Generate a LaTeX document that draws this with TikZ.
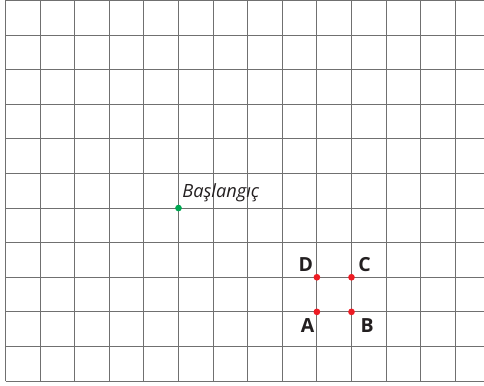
\documentclass[tikz,border=0pt]{standalone}
\usepackage{fontspec}
\setmainfont{Open Sans}
\definecolor{gridc}{RGB}{112,112,112}
\definecolor{ptgreen}{RGB}{0,166,81}
\definecolor{ptred}{RGB}{237,28,36}
\definecolor{txt}{RGB}{35,31,32}
\begin{document}
\begin{tikzpicture}[x=1cm,y=1cm,
  gridline/.style={draw=gridc,line width=0.75pt},
  dotg/.style={circle,fill=ptgreen,inner sep=0pt,minimum size=5.5pt},
  dotr/.style={circle,fill=ptred,inner sep=0pt,minimum size=5.5pt},
  lbl/.style={font=\fontsize{16}{16}\selectfont\bfseries,text=txt,inner sep=0pt}]
\useasboundingbox (-0.159,-0.13) rectangle (13.83,11.014);
\fill[white] (-0.159,-0.13) rectangle (13.83,11.014);
\foreach \i in {0,...,13} \draw[gridline] (\i,0) -- (\i,11);
\foreach \j in {0,...,11} \draw[gridline] (0,\j) -- (13.83,\j);
\node[dotg] (s) at (5,5) {};
\node[anchor=south west,inner sep=0pt,font=\fontsize{15}{15}\selectfont\itshape,text=txt] (sl) at ([xshift=3pt,yshift=5pt]s.center) {Başlangıç};
\node[dotr] (d) at (9,3) {};
\node[dotr] (c) at (10,3) {};
\node[dotr] (a) at (9,2) {};
\node[dotr] (b) at (10,2) {};
\node[lbl] at ([xshift=-0.32cm,yshift=0.38cm]d.center) {D};
\node[lbl] at ([xshift=0.38cm,yshift=0.38cm]c.center) {C};
\node[lbl] at ([xshift=-0.27cm,yshift=-0.4cm]a.center) {A};
\node[lbl] at ([xshift=0.45cm,yshift=-0.4cm]b.center) {B};
\end{tikzpicture}
\end{document}
